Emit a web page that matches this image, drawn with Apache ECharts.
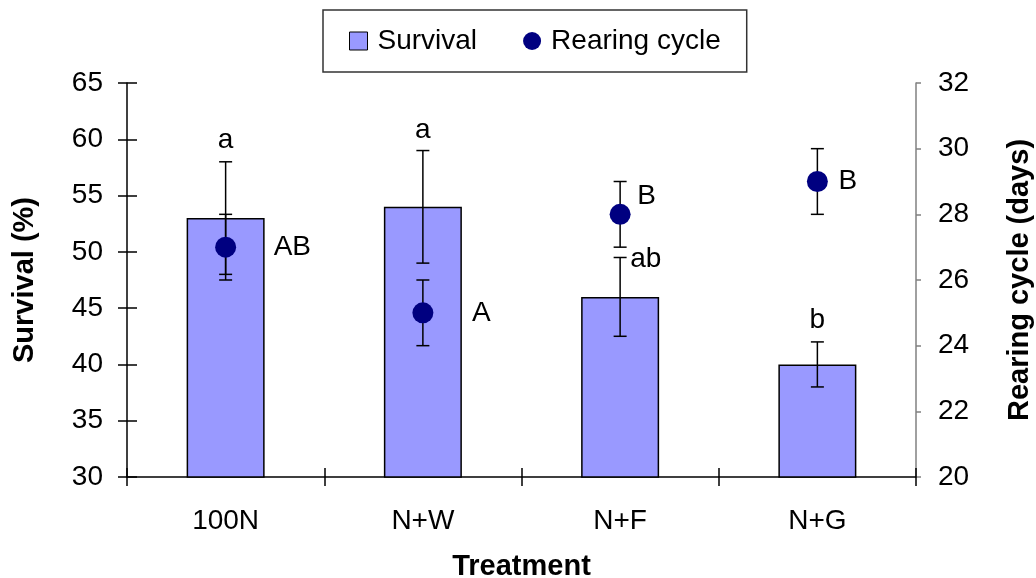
<!DOCTYPE html>
<html>
<head>
<meta charset="utf-8">
<script src="https://cdn.jsdelivr.net/npm/echarts@6/dist/echarts.min.js"></script>
<style>
  html, body { margin: 0; padding: 0; background: #fff; }
  #chart { width: 1036px; height: 578px; }
</style>
</head>
<body>
<div id="chart"></div>
<script>
// Treatments on the category axis
const categories = ['100N', 'N+W', 'N+F', 'N+G'];

// Survival (%) — bars, left axis
const survival = [53, 54, 46, 40];
const survivalErr = [5, 5, 3.5, 2];
const survivalLetters = ['a', 'a', 'ab', 'b'];

// Rearing cycle (days) — dots, right axis
const rearing = [27, 25, 28, 29];
const rearingErr = [1, 1, 1, 1];
const rearingLetters = ['AB', 'A', 'B', 'B'];

// Axis scales
const survivalTicks = { min: 30, max: 65, interval: 5 };
const rearingTicks = { min: 20, max: 32, interval: 2 };

// Pixel placement of the significance letters (layout only)
const survivalLetterPlacement = [
  { dx: 0, dy: -22, align: 'center' },
  { dx: 0, dy: -20, align: 'center' },
  { dx: 10, dy: 2, align: 'left' },
  { dx: 0, dy: -22, align: 'center' }
];
const rearingLetterPlacement = [
  { dx: 48, dy: 0 },
  { dx: 49, dy: 0 },
  { dx: 17, dy: -18 },
  { dx: 21, dy: 0 }
];

const FONT = '"Liberation Sans", Arial, sans-serif';
const BAR_COLOR = '#9999FF';
const DOT_COLOR = '#000080';
const TEXT_SIZE = 28;
const NAME_SIZE = 29;

function errorBarItem(letters, placement) {
  return function (params, api) {
    const i = params.dataIndex;
    const v = api.value(1);
    const e = api.value(2);
    const top = api.coord([i, v + e]);
    const bot = api.coord([i, v - e]);
    const x = top[0];
    const cap = 6.5;
    const lineStyle = { stroke: '#000', lineWidth: 1.5 };
    const p = placement[i];
    return {
      type: 'group',
      children: [
        { type: 'line', shape: { x1: x, y1: top[1], x2: x, y2: bot[1] }, style: lineStyle },
        { type: 'line', shape: { x1: x - cap, y1: top[1], x2: x + cap, y2: top[1] }, style: lineStyle },
        { type: 'line', shape: { x1: x - cap, y1: bot[1], x2: x + cap, y2: bot[1] }, style: lineStyle },
        {
          type: 'text',
          x: x + p.dx,
          y: top[1] + p.dy,
          style: {
            text: letters[i],
            fill: '#000',
            font: TEXT_SIZE + 'px ' + FONT,
            align: p.align,
            verticalAlign: 'middle'
          }
        }
      ]
    };
  };
}

function dotErrorItem(params, api) {
  const i = params.dataIndex;
  const v = api.value(1);
  const e = api.value(2);
  const top = api.coord([i, v + e]);
  const bot = api.coord([i, v - e]);
  const x = top[0];
  const cap = 6.5;
  const lineStyle = { stroke: '#000', lineWidth: 1.5 };
  return {
    type: 'group',
    children: [
      { type: 'line', shape: { x1: x, y1: top[1], x2: x, y2: bot[1] }, style: lineStyle },
      { type: 'line', shape: { x1: x - cap, y1: top[1], x2: x + cap, y2: top[1] }, style: lineStyle },
      { type: 'line', shape: { x1: x - cap, y1: bot[1], x2: x + cap, y2: bot[1] }, style: lineStyle }
    ]
  };
}

const chart = echarts.init(document.getElementById('chart'), null, { renderer: 'canvas' });

const axisText = { color: '#000', fontSize: TEXT_SIZE, fontFamily: FONT };
const nameText = { color: '#000', fontSize: NAME_SIZE, fontWeight: 'bold', fontFamily: FONT };

chart.setOption({
  animation: false,
  backgroundColor: '#fff',
  textStyle: { fontFamily: FONT },
  grid: { left: 127, right: 120, top: 83, bottom: 101, containLabel: false, outerBoundsMode: 'none' },
  legend: {
    left: 323,
    top: 10,
    orient: 'horizontal',
    backgroundColor: '#fff',
    borderColor: '#333',
    borderWidth: 1.5,
    borderRadius: 0,
    padding: [17, 26, 17, 26],
    itemGap: 46,
    itemWidth: 18,
    itemHeight: 18,
    textStyle: { color: '#000', fontSize: 28, fontFamily: FONT, lineHeight: 28, padding: [0, 0, 0, 5] },
    data: [
      { name: 'Survival', icon: 'rect', itemStyle: { color: BAR_COLOR, borderColor: '#000', borderWidth: 1 } },
      { name: 'Rearing cycle', icon: 'circle', itemStyle: { color: DOT_COLOR, borderWidth: 0 } }
    ]
  },
  xAxis: [
    {
      type: 'category',
      data: categories,
      position: 'bottom',
      name: 'Treatment',
      nameLocation: 'middle',
      nameGap: 75,
      nameTextStyle: nameText,
      axisLine: { show: true, lineStyle: { color: '#000', width: 1.5 } },
      axisTick: { show: true, inside: false, length: 9, lineStyle: { color: '#000', width: 1.5 } },
      axisLabel: Object.assign({ margin: 30 }, axisText),
      splitLine: { show: false }
    },
    {
      type: 'category',
      data: categories,
      position: 'bottom',
      axisLine: { show: false },
      axisTick: { show: true, inside: true, length: 9, lineStyle: { color: '#000', width: 1.5 } },
      axisLabel: { show: false },
      splitLine: { show: false }
    }
  ],
  yAxis: [
    {
      type: 'value',
      position: 'left',
      min: survivalTicks.min,
      max: survivalTicks.max,
      interval: survivalTicks.interval,
      name: 'Survival (%)',
      nameLocation: 'middle',
      nameGap: 88,
      nameTextStyle: nameText,
      axisLine: { show: true, lineStyle: { color: '#000', width: 1.5 } },
      axisTick: { show: true, inside: false, length: 9, lineStyle: { color: '#000', width: 1.5 } },
      axisLabel: Object.assign({ margin: 24 }, axisText),
      splitLine: { show: false }
    },
    {
      type: 'value',
      position: 'right',
      min: rearingTicks.min,
      max: rearingTicks.max,
      interval: rearingTicks.interval,
      name: 'Rearing cycle (days)',
      nameLocation: 'middle',
      nameGap: 89,
      nameTextStyle: nameText,
      axisLine: { show: true, lineStyle: { color: '#808080', width: 1.5 } },
      axisTick: { show: true, inside: false, length: 5, lineStyle: { color: '#808080', width: 1.5 } },
      axisLabel: Object.assign({ margin: 22 }, axisText),
      splitLine: { show: false }
    },
    {
      type: 'value',
      position: 'left',
      min: survivalTicks.min,
      max: survivalTicks.max,
      interval: survivalTicks.interval,
      axisLine: { show: false },
      axisTick: { show: true, inside: true, length: 10, lineStyle: { color: '#000', width: 1.5 } },
      axisLabel: { show: false },
      splitLine: { show: false }
    }
  ],
  series: [
    {
      name: 'Survival',
      type: 'bar',
      xAxisIndex: 0,
      yAxisIndex: 0,
      barWidth: 78,
      data: survival,
      itemStyle: { color: BAR_COLOR, borderColor: '#000', borderWidth: 1.5 },
      z: 2
    },
    {
      name: 'Survival SE',
      type: 'custom',
      xAxisIndex: 0,
      yAxisIndex: 0,
      renderItem: errorBarItem(survivalLetters, survivalLetterPlacement),
      data: categories.map((c, i) => [i, survival[i], survivalErr[i]]),
      z: 3
    },
    {
      name: 'Rearing cycle SE',
      type: 'custom',
      xAxisIndex: 0,
      yAxisIndex: 1,
      renderItem: dotErrorItem,
      data: categories.map((c, i) => [i, rearing[i], rearingErr[i]]),
      z: 4
    },
    {
      name: 'Rearing cycle',
      type: 'scatter',
      xAxisIndex: 0,
      yAxisIndex: 1,
      symbol: 'circle',
      symbolSize: 21,
      itemStyle: { color: DOT_COLOR, opacity: 1 },
      data: categories.map((c, i) => ({
        value: [i, rearing[i]],
        label: {
          show: true,
          formatter: rearingLetters[i],
          position: 'inside',
          offset: [rearingLetterPlacement[i].dx, rearingLetterPlacement[i].dy],
          align: 'left',
          verticalAlign: 'middle',
          color: '#000',
          fontSize: TEXT_SIZE,
          fontFamily: FONT
        }
      })),
      emphasis: { disabled: true },
      z: 5
    }
  ]
});
</script>
</body>
</html>
